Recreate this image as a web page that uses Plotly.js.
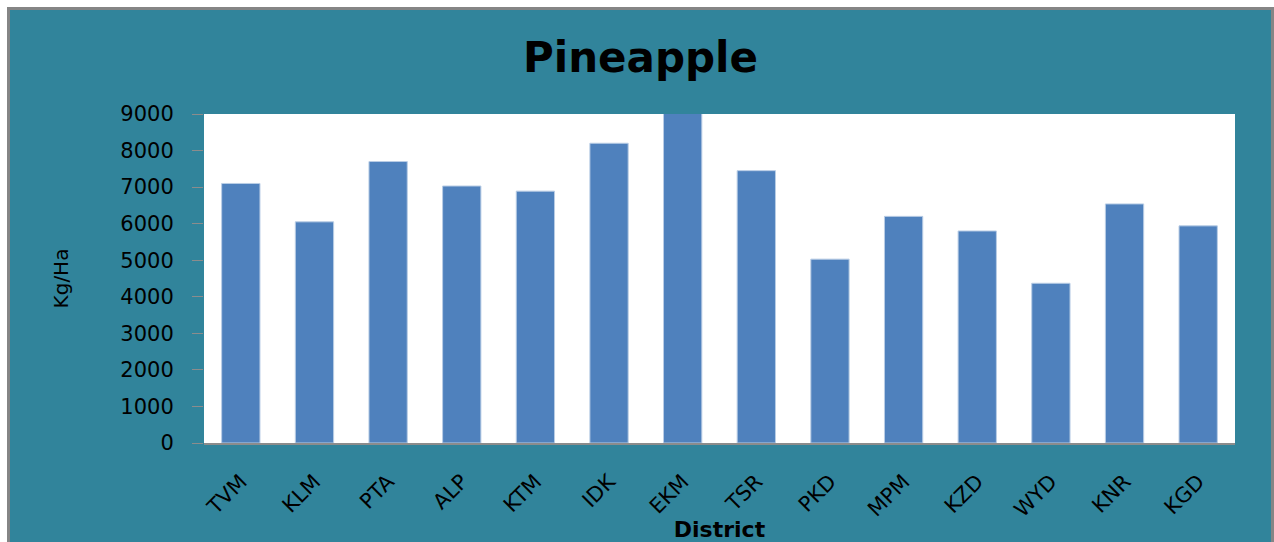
<!DOCTYPE html>
<html>
<head>
<meta charset="utf-8">
<script src="https://cdn.plot.ly/plotly-3.0.1.min.js"></script>
<style>
  html, body { margin: 0; padding: 0; background: #ffffff; width: 1274px; height: 542px; overflow: hidden; }
  #frame { position: absolute; left: 7px; top: 7px; border-left: 3px solid #858585; border-top: 3px solid #858585; border-right: 3px solid #858585; width: 1261px; height: 532px; }
  #chart { width: 1261px; height: 532px; }
</style>
</head>
<body>
<div id="frame"><div id="chart"></div></div>
<script>
const districts = ["TVM", "KLM", "PTA", "ALP", "KTM", "IDK", "EKM", "TSR", "PKD", "MPM", "KZD", "WYD", "KNR", "KGD"];
const yieldKgHa = [7100, 6050, 7700, 7030, 6890, 8200, 9500, 7450, 5030, 6200, 5800, 4370, 6540, 5940];
const yTicks = [0, 1000, 2000, 3000, 4000, 5000, 6000, 7000, 8000, 9000];

const trace = {
  type: 'bar',
  x: districts,
  y: yieldKgHa,
  marker: { color: '#4F81BD', line: { color: '#B9CDE5', width: 1 } },
  hoverinfo: 'x+y'
};

const layout = {
  width: 1261,
  height: 532,
  paper_bgcolor: '#31849B',
  plot_bgcolor: '#ffffff',
  margin: { l: 194, r: 36, t: 104, b: 99 },
  bargap: 0.48,
  showlegend: false,
  title: {
    text: '<b>Pineapple</b>',
    font: { family: 'DejaVu Sans', size: 42, color: '#000000' },
    x: 0.5, xref: 'container', xanchor: 'center',
    y: 0.912, yref: 'container', yanchor: 'middle'
  },
  xaxis: {
    type: 'category',
    tickangle: -45,
    tickfont: { family: 'DejaVu Sans', size: 21, color: '#000000' },
    showline: true, linecolor: '#8C8C8C', linewidth: 2,
    ticks: '', ticklabelstandoff: 16,
    showgrid: false, zeroline: false,
    automargin: false,
    title: { text: '<b>District</b>', font: { family: 'DejaVu Sans', size: 22, color: '#000000' }, standoff: 0 }
  },
  yaxis: {
    range: [0, 9000],
    tickvals: yTicks,
    ticktext: yTicks.map(String),
    tickfont: { family: 'DejaVu Sans', size: 21, color: '#000000' },
    ticks: 'outside', ticklen: 11, tickcolor: '#8C8C8C', tickwidth: 1,
    ticklabelstandoff: 14,
    showline: false, showgrid: false, zeroline: false,
    automargin: false,
    title: { text: 'Kg/Ha', font: { family: 'DejaVu Sans', size: 20, color: '#000000' }, standoff: 46 }
  }
};

Plotly.newPlot('chart', [trace], layout, { displayModeBar: false, staticPlot: true });
</script>
</body>
</html>
